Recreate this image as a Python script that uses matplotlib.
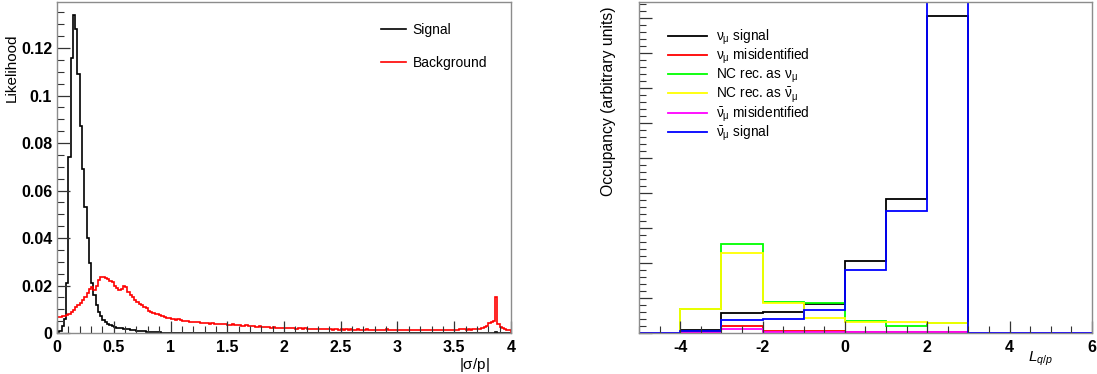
import numpy as np
from matplotlib import pyplot as plt
from matplotlib.ticker import MultipleLocator, NullFormatter

plt.rcParams['font.family'] = ['Liberation Sans', 'DejaVu Sans']
plt.rcParams['mathtext.fontset'] = 'custom'
plt.rcParams['mathtext.rm'] = 'Liberation Sans'
plt.rcParams['mathtext.it'] = 'Liberation Sans:italic'
plt.rcParams['axes.unicode_minus'] = False

# ---- left panel: |sigma/p| likelihoods, 200 bins from 0 to 4 ----
sig_edges = np.linspace(0, 4, 201)
signal = [
    0.0003, 0.001, 0.003, 0.006, 0.021, 0.074, 0.116, 0.134, 0.128, 0.109,
    0.087, 0.069, 0.053, 0.040, 0.0295, 0.021, 0.016, 0.012, 0.009, 0.007,
    0.0055, 0.0045, 0.0038, 0.0032, 0.0028, 0.0025, 0.0023, 0.0021, 0.0020, 0.0018,
    0.0016, 0.0015, 0.0013, 0.0012, 0.0011, 0.0010, 0.0009, 0.0008, 0.0007, 0.0006,
    0.0005, 0.0005, 0.0004, 0.0004, 0.0003, 0.0003, 0.0002, 0.0002, 0.0002, 0.0001,
    0.0001, 0.0001, 0.0001, 0.0001, 0.0001, 0.0001, 0.0001, 0.0, 0.0, 0.0,
] + [0.0] * 133 + [0.0003] + [0.0] * 6
background = [
    0.0066, 0.0068, 0.0070, 0.0072, 0.0076, 0.0080, 0.0090, 0.0098, 0.0108, 0.0118,
    0.0128, 0.0140, 0.0152, 0.0168, 0.0185, 0.0192, 0.0180, 0.0200, 0.0222, 0.0234,
    0.0236, 0.0232, 0.0228, 0.0220, 0.0214, 0.0200, 0.0188, 0.0182, 0.0186, 0.0196,
    0.0192, 0.0172, 0.0160, 0.0150, 0.0140, 0.0132, 0.0124, 0.0118, 0.0110, 0.0105,
    0.0092, 0.0090, 0.0086, 0.0082, 0.0078, 0.0074, 0.0072, 0.0066, 0.0064, 0.0062,
    0.0060, 0.0058, 0.0056, 0.0058, 0.0054, 0.0052, 0.0050, 0.0052, 0.0048, 0.0047,
    0.0046, 0.0045, 0.0046, 0.0044, 0.0042, 0.0043, 0.0041, 0.0040, 0.0041, 0.0039,
    0.0038, 0.0039, 0.0037, 0.0036, 0.0037, 0.0035, 0.0034, 0.0036, 0.0033, 0.0032,
    0.0033, 0.0031, 0.0030, 0.0032, 0.0029, 0.0028, 0.0030, 0.0027, 0.0026, 0.0028,
    0.0026, 0.0025, 0.0027, 0.0024, 0.0023, 0.0024, 0.0022, 0.0023, 0.0021, 0.0022,
    0.0021, 0.0020, 0.0022, 0.0019, 0.0020, 0.0018, 0.0020, 0.0019, 0.0017, 0.0019,
    0.0018, 0.0016, 0.0018, 0.0017, 0.0015, 0.0016, 0.0017, 0.0015, 0.0016, 0.0015,
    0.0016, 0.0014, 0.0015, 0.0016, 0.0014, 0.0015, 0.0013, 0.0015, 0.0014, 0.0016,
    0.0014, 0.0013, 0.0015, 0.0014, 0.0013, 0.0014, 0.0015, 0.0013, 0.0014, 0.0012,
    0.0014, 0.0013, 0.0012, 0.0014, 0.0013, 0.0015, 0.0012, 0.0013, 0.0014, 0.0012,
    0.0013, 0.0014, 0.0012, 0.0013, 0.0012, 0.0014, 0.0013, 0.0012, 0.0013, 0.0014,
    0.0012, 0.0013, 0.0014, 0.0012, 0.0013, 0.0012, 0.0014, 0.0013, 0.0012, 0.0013,
    0.0014, 0.0013, 0.0012, 0.0013, 0.0014, 0.0013, 0.0014, 0.0015, 0.0016, 0.0018,
    0.0014, 0.0015, 0.0014, 0.0016, 0.0015, 0.0017, 0.0018, 0.0020, 0.0024, 0.0030,
    0.0042, 0.0048, 0.0052, 0.0150, 0.0040, 0.0024, 0.0020, 0.0016, 0.0014, 0.0014,
]

# ---- right panel: L_q/p occupancy, unit bins from -5 to 6 ----
lqp_edges = np.arange(-5, 7)
numu_signal = [0, 0.10, 0.57, 0.60, 0.84, 2.05, 3.83, 9.07, 0, 0, 0]
numu_misid = [0, 0.02, 0.21, 0.07, 0.05, 0.03, 0.03, 0.03, 0, 0, 0]
nc_as_numu = [0, 0.69, 2.55, 0.89, 0.85, 0.33, 0.21, 0.28, 0, 0, 0]
nc_as_anumu = [0, 0.69, 2.29, 0.86, 0.43, 0.32, 0.31, 0.29, 0, 0, 0]
anumu_misid = [0, 0.01, 0.11, 0.04, 0.02, 0.02, 0.02, 0.02, 0, 0, 0]
anumu_signal = [0, 0.05, 0.36, 0.40, 0.67, 1.79, 3.48, 10.5, 0, 0, 0]

right_series = [
    (numu_signal, 'black', r'$\mathrm{\nu_\mu}$ signal'),
    (numu_misid, '#ff0000', r'$\mathrm{\nu_\mu}$ misidentified'),
    (nc_as_numu, '#00ff00', r'NC rec. as $\mathrm{\nu_\mu}$'),
    (nc_as_anumu, '#ffff00', r'NC rec. as $\mathrm{\bar{\nu}_\mu}$'),
    (anumu_misid, '#ff00ff', r'$\mathrm{\bar{\nu}_\mu}$ misidentified'),
    (anumu_signal, '#0000ff', r'$\mathrm{\bar{\nu}_\mu}$ signal'),
]


def root_style(ax):
    for s in ax.spines.values():
        s.set_color('#8c8c8c')
        s.set_linewidth(1.0)
    ax.tick_params(which='both', direction='in', top=False, right=False, color='#333333')
    ax.tick_params(which='major', length=9, width=0.9)
    ax.tick_params(which='minor', length=5, width=0.8)
    ax.tick_params(axis='x', pad=5)
    for lab in ax.get_xticklabels() + ax.get_yticklabels():
        lab.set_fontweight('bold')
        lab.set_fontsize(11.5)


fig = plt.figure(figsize=(10.97, 3.74), dpi=100)

ax1 = fig.add_axes([0.052, 0.1096, 0.4138, 0.885])
ax1.stairs(signal, sig_edges, color='black', lw=1.2, label='Signal')
ax1.stairs(background, sig_edges, color='#ff0000', lw=1.2, label='Background')
ax1.set_xlim(0, 4)
ax1.set_ylim(0, 0.1394)
ax1.xaxis.set_minor_locator(MultipleLocator(0.1))
ax1.yaxis.set_minor_locator(MultipleLocator(0.005))
ax1.set_xticks(np.arange(0, 4.01, 0.5))
ax1.set_xticklabels(['0', '0.5', '1', '1.5', '2', '2.5', '3', '3.5', '4'])
ax1.set_yticks(np.arange(0, 0.121, 0.02))
ax1.set_yticklabels(['0', '0.02', '0.04', '0.06', '0.08', '0.1', '0.12'])
root_style(ax1)
ax1.set_ylabel('Likelihood', fontsize=11, loc='top')
ax1.yaxis.set_label_coords(-0.084, 0.905)
ax1.set_xlabel(r'|$\mathrm{\sigma}$/p|', fontsize=11, loc='right')
ax1.xaxis.set_label_coords(0.954, -0.068)
ax1.legend(loc='upper right', bbox_to_anchor=(0.975, 0.975), frameon=False,
           fontsize=10, handlelength=1.8, labelspacing=1.35, handletextpad=0.5)

ax2 = fig.add_axes([0.5825, 0.1096, 0.4129, 0.885])
for vals, col, lab in right_series:
    ax2.stairs(vals, lqp_edges, color=col, lw=1.3, label=lab)
ax2.set_xlim(-5, 6)
ax2.set_ylim(0, 9.47)
ax2.xaxis.set_major_locator(MultipleLocator(2))
ax2.xaxis.set_minor_locator(MultipleLocator(0.5))
ax2.yaxis.set_major_locator(MultipleLocator(1))
ax2.yaxis.set_minor_locator(MultipleLocator(0.2))
ax2.yaxis.set_major_formatter(NullFormatter())
root_style(ax2)
ax2.set_ylabel('Occupancy (arbitrary units)', fontsize=11.3, loc='top')
ax2.yaxis.set_label_coords(-0.05, 0.985)
ax2.set_xlabel(r'$L_{q/p}$', fontsize=11, loc='right')
ax2.xaxis.set_label_coords(0.914, -0.05)
ax2.legend(loc='upper left', bbox_to_anchor=(0.037, 0.96), frameon=False,
           fontsize=9.8, handlelength=2.9, labelspacing=0.02, handletextpad=0.6)

fig.savefig('out.png', dpi=100)
